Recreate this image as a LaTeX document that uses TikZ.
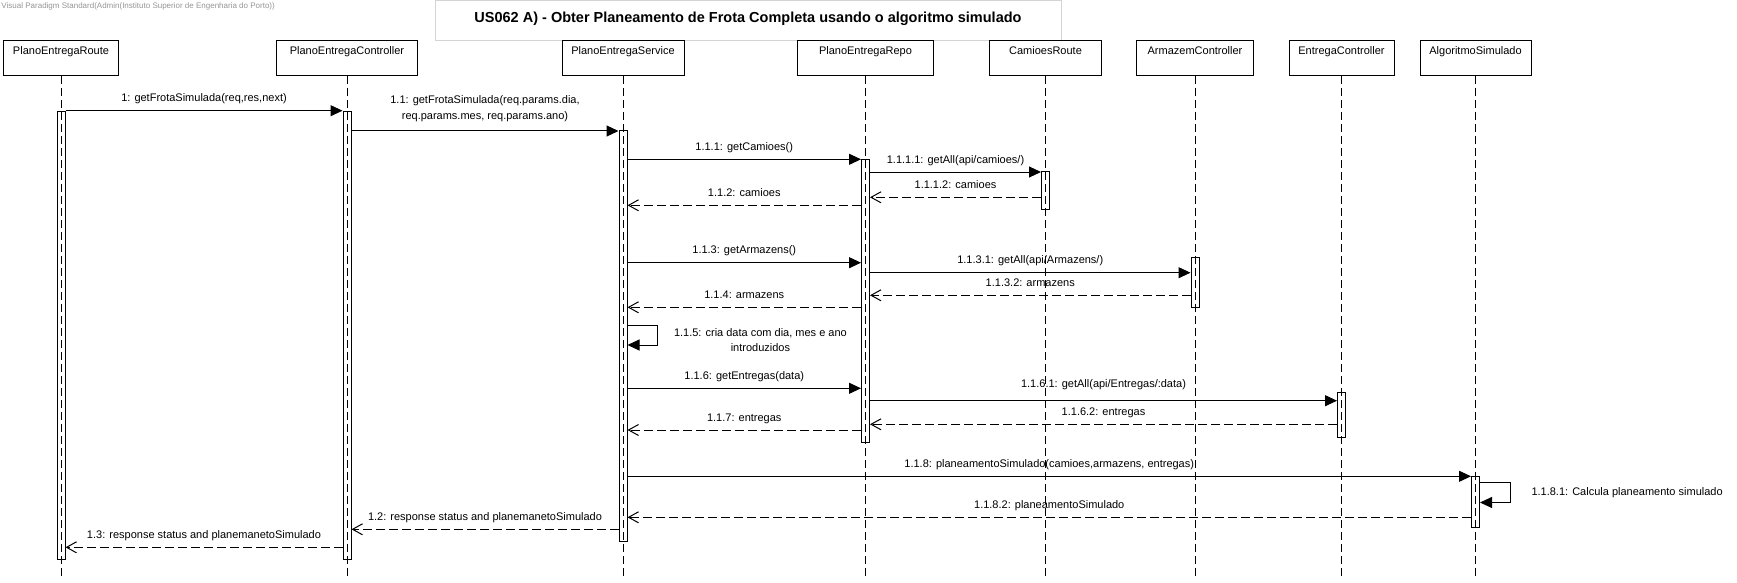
\documentclass[tikz,border=0pt]{standalone}
\usepackage{fontspec}
\setmainfont{Liberation Sans}
\usetikzlibrary{arrows.meta,positioning}
\definecolor{framegray}{RGB}{212,212,212}
\definecolor{markgray}{RGB}{150,150,150}

\begin{document}
\begin{tikzpicture}[x=1pt,y=-1pt,line width=1pt,>={Triangle[length=12pt,width=11pt]}]
        \tikzset{head/.style= {draw, rectangle, anchor=north, minimum height=35pt, inner xsep=2pt, inner ysep=3pt, text height=10.5pt, text depth=18.5pt, font=\fontsize{11}{13}\selectfont},
        act/.style={draw, rectangle, anchor=north, minimum width=8pt, inner sep=0pt},
        lifeline/.style={dash pattern=on 8pt off 4pt},
        reply/.style={-{Straight Barb[length=10pt,width=11pt]}, dash pattern=on 9pt off 4pt},
        lbl/.style={above=6pt, inner sep=0pt, text height=8pt, text depth=2.5pt, font=\fontsize{11}{16}\selectfont},
        note/.style={inner sep=0pt, align=center, font=\fontsize{11}{15}\selectfont},
        titlebox/.style={draw=framegray, rectangle, minimum width=626pt, minimum height=39.8pt, inner sep=0pt, text height=10.5pt, text depth=6.1pt, font=\bfseries\fontsize{14.5}{17}\selectfont},
        }
        \path[use as bounding box, fill=white] (0,0) rectangle (1737,583);
        \node [anchor=west, inner sep=0pt, text=markgray, font=\fontsize{8}{9}\selectfont] (mark) at (1,6) {Visual Paradigm Standard(Admin(Instituto Superior de Engenharia do Porto))};
        \node [titlebox] (title) at (748,20.4) {US062 A) - Obter Planeamento de Frota Completa usando o algoritmo simulado};
%% lifeline heads
        \node [head, minimum width=115pt] (hR) at (61,40.3) {PlanoEntregaRoute};
        \node [head, minimum width=141pt] (hC) at (347,40.3) {PlanoEntregaController};
        \node [head, minimum width=122pt] (hS) at (623,40.3) {PlanoEntregaService};
        \node [head, minimum width=136pt] (hP) at (865.5,40.3) {PlanoEntregaRepo};
        \node [head, minimum width=112pt] (hCR) at (1045.5,40.3) {CamioesRoute};
        \node [head, minimum width=117pt] (hAC) at (1195,40.3) {ArmazemController};
        \node [head, minimum width=105pt] (hEC) at (1341.5,40.3) {EntregaController};
        \node [head, minimum width=111pt] (hAS) at (1475.5,40.3) {AlgoritmoSimulado};
        \coordinate (bottom) at (0,576);
%% lifelines
        \path[draw,lifeline] (hR.south) -- (hR.south |- bottom)
                    (hC.south) -- (hC.south |- bottom)
                    (hS.south) -- (hS.south |- bottom)
                    (hP.south) -- (hP.south |- bottom)
                    (hCR.south) -- (hCR.south |- bottom)
                    (hAC.south) -- (hAC.south |- bottom)
                    (hEC.south) -- (hEC.south |- bottom)
                    (hAS.south) -- (hAS.south |- bottom)
                    ;
%% activations
        \node [act, minimum height=448.6pt] (aR) at (61,110.7) {};
        \node [act, minimum height=448.6pt] (aC) at (347,110.7) {};
        \node [act, minimum height=411.3pt] (aS) at (623,130) {};
        \node [act, minimum height=283pt] (aP) at (865.5,159.3) {};
        \node [act, minimum height=38pt] (aCR) at (1045.5,171.3) {};
        \node [act, minimum height=50pt] (aAC) at (1195,257.3) {};
        \node [act, minimum height=45pt] (aEC) at (1341.5,392.3) {};
        \node [act, minimum height=51pt] (aAS) at (1475.5,476.3) {};
%% message levels
        \coordinate (m1) at (0,110.7);
        \coordinate (m11) at (0,131);
        \coordinate (m111) at (0,159.3);
        \coordinate (m1111) at (0,172);
        \coordinate (m1112) at (0,197.3);
        \coordinate (m112) at (0,205.3);
        \coordinate (m113) at (0,262.7);
        \coordinate (m1131) at (0,272.7);
        \coordinate (m1132) at (0,295.3);
        \coordinate (m114) at (0,307.3);
        \coordinate (m115a) at (0,325.7);
        \coordinate (m115b) at (0,345);
        \coordinate (m116) at (0,388.3);
        \coordinate (m1161) at (0,400.7);
        \coordinate (m1162) at (0,424.3);
        \coordinate (m117) at (0,430);
        \coordinate (m118) at (0,476.3);
        \coordinate (m1181a) at (0,482.7);
        \coordinate (m1181b) at (0,502.5);
        \coordinate (m1182) at (0,517.3);
        \coordinate (m12) at (0,529.3);
        \coordinate (m13) at (0,547.3);
%% calls
        \path[->] (aR.east |- m1) edge node[lbl] {1: getFrotaSimulada(req,res,next)} (aC.west |- m1)
                    (aC.east |- m11) edge node[lbl, above=9pt, align=center, text height=, text depth=] {1.1: getFrotaSimulada(req.params.dia,\\req.params.mes, req.params.ano)} (aS.west |- m11)
                    (aS.east |- m111) edge node[lbl] {1.1.1: getCamioes()} (aP.west |- m111)
                    (aP.east |- m1111) edge node[lbl] {1.1.1.1: getAll(api/camioes/)} (aCR.west |- m1111)
                    (aS.east |- m113) edge node[lbl] {1.1.3: getArmazens()} (aP.west |- m113)
                    (aP.east |- m1131) edge node[lbl] {1.1.3.1: getAll(api/Armazens/)} (aAC.west |- m1131)
                    (aS.east |- m116) edge node[lbl] {1.1.6: getEntregas(data)} (aP.west |- m116)
                    (aP.east |- m1161) edge node[lbl, yshift=4pt] {1.1.6.1: getAll(api/Entregas/:data)} (aEC.west |- m1161)
                    (aS.east |- m118) edge node[lbl] {1.1.8: planeamentoSimulado(camioes,armazens, entregas)} (aAS.west |- m118)
                    ;
%% self calls
        \path[draw,->] (aS.east |- m115a) -- ++(30,0) |- node[note, pos=0.25, right=16pt, yshift=-5pt] {1.1.5: cria data com dia, mes e ano\\introduzidos} (aS.east |- m115b);
        \path[draw,->] (aAS.east |- m1181a) -- ++(30,0) |- node[note, pos=0.25, right=21pt] {1.1.8.1: Calcula planeamento simulado} (aAS.east |- m1181b);
%% replies
        \path[reply] (aCR.west |- m1112) edge node[lbl] {1.1.1.2: camioes} (aP.east |- m1112)
                    (aP.west |- m112) edge node[lbl] {1.1.2: camioes} (aS.east |- m112)
                    (aAC.west |- m1132) edge node[lbl] {1.1.3.2: armazens} (aP.east |- m1132)
                    (aP.west |- m114) edge node[lbl] {1.1.4: armazens} (aS.east |- m114)
                    (aEC.west |- m1162) edge node[lbl] {1.1.6.2: entregas} (aP.east |- m1162)
                    (aP.west |- m117) edge node[lbl] {1.1.7: entregas} (aS.east |- m117)
                    (aAS.west |- m1182) edge node[lbl] {1.1.8.2: planeamentoSimulado} (aS.east |- m1182)
                    (aS.west |- m12) edge node[lbl] {1.2: response status and planemanetoSimulado} (aC.east |- m12)
                    (aC.west |- m13) edge node[lbl] {1.3: response status and planemanetoSimulado} (aR.east |- m13)
                    ;
    \end{tikzpicture}
\end{document}
